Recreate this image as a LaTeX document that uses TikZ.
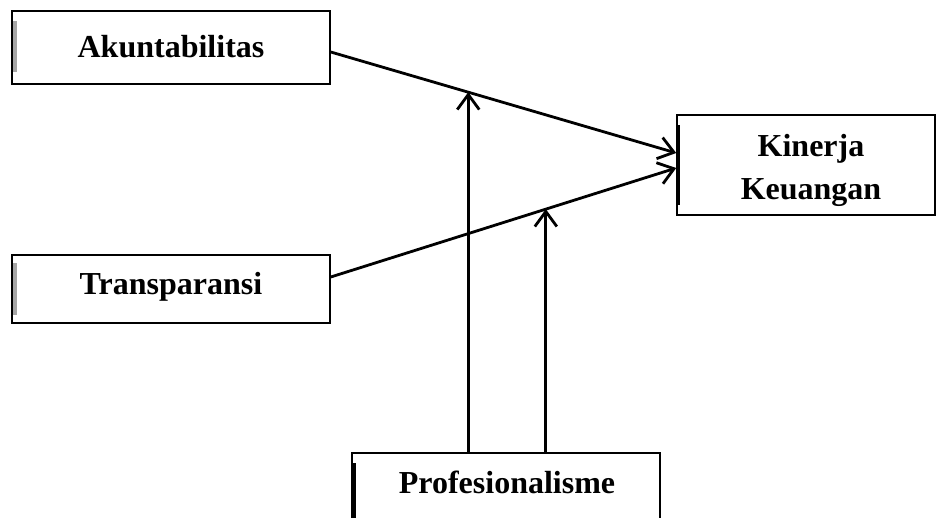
\documentclass[tikz,border=0pt]{standalone}
\usepackage{fontspec}
\setmainfont{Liberation Serif}
\usetikzlibrary{arrows.meta,calc}
\begin{document}
\begin{tikzpicture}[x=1pt,y=-1pt,
  boxshape/.style={draw,line width=1.5pt,rectangle,inner sep=0pt},
  lbl/.style={font=\fontsize{32}{40}\selectfont\bfseries,align=center,inner sep=0pt},
  link/.style={line width=2.8pt,-{Straight Barb[length=15pt,width=22pt,line width=2.8pt]}}]
\useasboundingbox (0,0) rectangle (936,518);
\clip (0,0) rectangle (936,518);
% boxes
\node[boxshape,minimum width=318pt,minimum height=73pt] (ak) at (171,47.5) {};
\node[lbl] (akt) at (171,47) {Akuntabilitas};
\node[boxshape,minimum width=318pt,minimum height=68pt] (tr) at (171,289) {};
\node[lbl] (trt) at (171,287) {Transparansi};
\node[boxshape,minimum width=258pt,minimum height=100pt] (kin) at (806,165) {};
\node[lbl] (kint) at (811,170) {Kinerja\\[3pt]Keuangan};
\node[boxshape,minimum width=308pt,minimum height=90pt] (prof) at (506,498) {};
\node[lbl] (proft) at (507,482) {Profesionalisme};
% thick left bars
\fill[gray!70] (12.5,21) rectangle (16.5,72);
\fill[gray!70] (12.5,263) rectangle (16.5,315);
\fill[black] (675.5,125) rectangle (680,205);
\fill[black] (351,463) rectangle (355.5,518);
% connectors
\draw[link] ($(ak.east)+(0,4.5)$) -- ($(kin.west)+(0,-12)$)
  coordinate[pos=0.398] (m1);
\draw[link] ($(tr.east)+(0,-12)$) -- ($(kin.west)+(0,3)$)
  coordinate[pos=0.6225] (m2);
\draw[link] (prof.north -| m1) -- (m1);
\draw[link] (prof.north -| m2) -- (m2);
\end{tikzpicture}
\end{document}
